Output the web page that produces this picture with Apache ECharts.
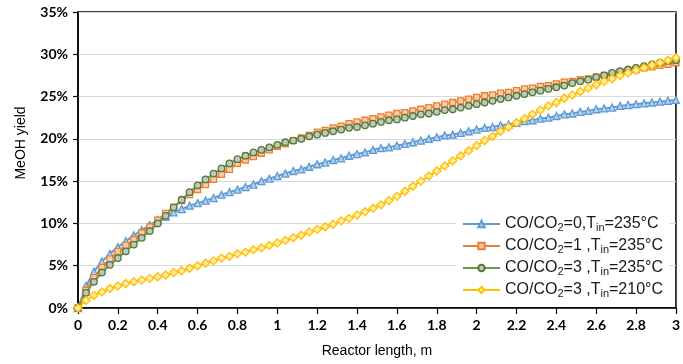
<!DOCTYPE html>
<html>
<head>
<meta charset="utf-8">
<script src="https://cdn.jsdelivr.net/npm/echarts@6/dist/echarts.min.js"></script>
<style>
  html, body { margin: 0; padding: 0; background: #fff; }
  #chart { width: 683px; height: 364px; }
</style>
</head>
<body>
<div id="chart"></div>
<script>
// Reactor length positions (m)
const lengthM = [
  0, 0.04, 0.08, 0.12, 0.16, 0.20, 0.24, 0.28, 0.32, 0.36, 0.40, 0.44, 0.48, 0.52, 0.56, 0.60,
  0.64, 0.68, 0.72, 0.76, 0.80, 0.84, 0.88, 0.92, 0.96, 1.00, 1.04, 1.08, 1.12, 1.16, 1.20,
  1.24, 1.28, 1.32, 1.36, 1.40, 1.44, 1.48, 1.52, 1.56, 1.60, 1.64, 1.68, 1.72, 1.76, 1.80,
  1.84, 1.88, 1.92, 1.96, 2.00, 2.04, 2.08, 2.12, 2.16, 2.20, 2.24, 2.28, 2.32, 2.36, 2.40,
  2.44, 2.48, 2.52, 2.56, 2.60, 2.64, 2.68, 2.72, 2.76, 2.80, 2.84, 2.88, 2.92, 2.96, 3.00
];

// MeOH yield (%) along the reactor
const yieldCO0_235 = [
  0, 2.6, 4.3, 5.5, 6.4, 7.2, 7.9, 8.6, 9.2, 9.8, 10.4, 10.8, 11.3, 11.7, 12.1, 12.4,
  12.7, 13.0, 13.4, 13.7, 14.0, 14.3, 14.6, 15.0, 15.3, 15.6, 15.9, 16.2, 16.4, 16.7, 17.0,
  17.2, 17.5, 17.7, 18.0, 18.2, 18.4, 18.7, 18.9, 19.0, 19.2, 19.4, 19.6, 19.8, 20.0, 20.2,
  20.4, 20.5, 20.7, 20.9, 21.1, 21.3, 21.4, 21.6, 21.7, 21.9, 22.1, 22.2, 22.4, 22.5, 22.7,
  22.9, 23.0, 23.2, 23.3, 23.5, 23.6, 23.7, 23.9, 24.0, 24.1, 24.2, 24.3, 24.4, 24.5, 24.6
];
const yieldCO1_235 = [
  0, 2.1, 3.6, 4.8, 5.8, 6.7, 7.4, 8.1, 8.9, 9.6, 10.4, 11.2, 11.9, 12.7, 13.4, 14.0,
  14.6, 15.2, 15.8, 16.4, 17.1, 17.5, 17.9, 18.3, 18.7, 19.1, 19.4, 19.8, 20.1, 20.4, 20.8,
  21.0, 21.3, 21.5, 21.8, 22.0, 22.2, 22.4, 22.6, 22.8, 23.0, 23.1, 23.3, 23.5, 23.7, 23.9,
  24.1, 24.3, 24.5, 24.7, 24.9, 25.1, 25.2, 25.4, 25.5, 25.7, 25.9, 26.0, 26.2, 26.3, 26.5,
  26.7, 26.8, 27.0, 27.1, 27.3, 27.5, 27.7, 27.9, 28.0, 28.2, 28.4, 28.5, 28.7, 28.8, 29.0
];
const yieldCO3_235 = [
  0, 1.8, 3.1, 4.2, 5.1, 5.9, 6.7, 7.5, 8.3, 9.1, 10.0, 10.9, 11.9, 12.8, 13.7, 14.5,
  15.2, 15.9, 16.5, 17.1, 17.6, 18.0, 18.4, 18.7, 19.0, 19.3, 19.6, 19.8, 20.0, 20.3, 20.5,
  20.7, 20.9, 21.1, 21.3, 21.4, 21.6, 21.8, 22.0, 22.2, 22.3, 22.5, 22.7, 22.9, 23.0, 23.2,
  23.4, 23.5, 23.7, 23.9, 24.1, 24.3, 24.5, 24.7, 24.9, 25.1, 25.3, 25.5, 25.7, 25.9, 26.1,
  26.3, 26.6, 26.8, 27.0, 27.3, 27.5, 27.8, 28.0, 28.2, 28.4, 28.6, 28.8, 29.0, 29.2, 29.3
];
const yieldCO3_210 = [
  0, 0.9, 1.5, 1.9, 2.3, 2.6, 2.9, 3.1, 3.3, 3.5, 3.7, 3.9, 4.2, 4.4, 4.7, 5.0,
  5.3, 5.6, 5.9, 6.1, 6.4, 6.6, 6.9, 7.1, 7.4, 7.7, 8.0, 8.3, 8.6, 9.0, 9.3,
  9.6, 9.9, 10.3, 10.6, 11.0, 11.4, 11.8, 12.2, 12.7, 13.2, 13.8, 14.4, 15.0, 15.6, 16.2,
  16.8, 17.4, 18.0, 18.6, 19.2, 19.8, 20.3, 20.9, 21.4, 21.9, 22.4, 22.9, 23.4, 23.9, 24.3,
  24.8, 25.2, 25.6, 26.0, 26.4, 26.8, 27.1, 27.5, 27.8, 28.1, 28.4, 28.7, 29.0, 29.3, 29.6
];

// Legend labels: [CO/CO2 ratio text, inlet temperature]
const seriesNames = ['s0', 's1', 's2', 's3'];
const ratioText = ['0,', '1 ,', '3 ,', '3 ,'];
const inletTemp = ['235°C', '235°C', '235°C', '210°C'];

const pairs = ys => lengthM.map((x, i) => [x, ys[i]]);

const chart = echarts.init(document.getElementById('chart'), null, { renderer: 'canvas' });

const tickFont = { fontFamily: 'Lato', fontWeight: 'bold', fontSize: 14, color: '#000' };

function lineSeries(name, ys, lineColor, symbol, size, border, fill, z) {
  return {
    name: name,
    type: 'line',
    data: pairs(ys),
    z: z,
    symbol: symbol,
    symbolSize: size,
    showSymbol: true,
    showAllSymbol: true,
    smooth: false,
    lineStyle: { color: lineColor, width: 2 },
    itemStyle: { color: fill, borderColor: border, borderWidth: 1.3 },
    emphasis: { disabled: true }
  };
}

chart.setOption({
  animation: false,
  grid: {
    left: 78, right: 6, top: 12, bottom: 56,
    show: true, borderColor: '#000', borderWidth: 1.5, backgroundColor: 'transparent'
  },
  xAxis: {
    type: 'value',
    min: 0, max: 3, interval: 0.2,
    name: 'Reactor length, m',
    nameLocation: 'middle',
    nameGap: 36,
    nameTextStyle: { fontFamily: 'Liberation Sans', fontSize: 14, color: '#000' },
    axisLine: { show: true, lineStyle: { color: '#000', width: 1.5 } },
    axisTick: { show: true, inside: false, length: 6, lineStyle: { color: '#000', width: 1.2 } },
    axisLabel: Object.assign({ margin: 10, formatter: v => String(Math.round(v * 10) / 10) }, tickFont),
    splitLine: { show: false }
  },
  yAxis: {
    type: 'value',
    min: 0, max: 35, interval: 5,
    name: 'MeOH yield',
    nameLocation: 'middle',
    nameGap: 50,
    nameTextStyle: { fontFamily: 'Liberation Sans', fontSize: 14, color: '#000', padding: [0, 0, 0, 34] },
    axisLine: { show: true, lineStyle: { color: '#000', width: 1.5 } },
    axisTick: { show: true, inside: false, length: 5, lineStyle: { color: '#000', width: 1.2 } },
    axisLabel: Object.assign({ margin: 10, formatter: '{value}%' }, tickFont),
    splitLine: { show: true, lineStyle: { color: '#d9d9d9', width: 1.2 } }
  },
  legend: {
    orient: 'vertical',
    left: 456, top: 213,
    data: seriesNames,
    backgroundColor: '#fff',
    padding: [3, 6, 3, 6],
    itemWidth: 37,
    itemHeight: 8,
    itemGap: 5,
    formatter: function (name) {
      const i = seriesNames.indexOf(name);
      return '{a|CO/CO}{s|2}{a|=' + ratioText[i] + 'T}{s|in}{a|=' + inletTemp[i] + '}';
    },
    textStyle: {
      fontFamily: 'Liberation Sans',
      color: '#1a1a1a',
      rich: {
        a: { fontFamily: 'Liberation Sans', fontSize: 16, color: '#1a1a1a', lineHeight: 17 },
        s: { fontFamily: 'Liberation Sans', fontSize: 11, color: '#1a1a1a', padding: [7, 0, 0, 0] }
      }
    }
  },
  series: [
    lineSeries('s0', yieldCO0_235, '#5b9bd5', 'triangle', 7, '#5b9bd5', '#b5d0ec', 2),
    lineSeries('s1', yieldCO1_235, '#ed7d31', 'rect', 6, '#ed7d31', '#f8cdb0', 3),
    lineSeries('s2', yieldCO3_235, '#6a9a45', 'circle', 6.5, '#4e7d2e', '#c4c4c4', 4),
    lineSeries('s3', yieldCO3_210, '#ffc000', 'diamond', 8, '#ffc000', '#ffeaa8', 5)
  ]
});
</script>
</body>
</html>
